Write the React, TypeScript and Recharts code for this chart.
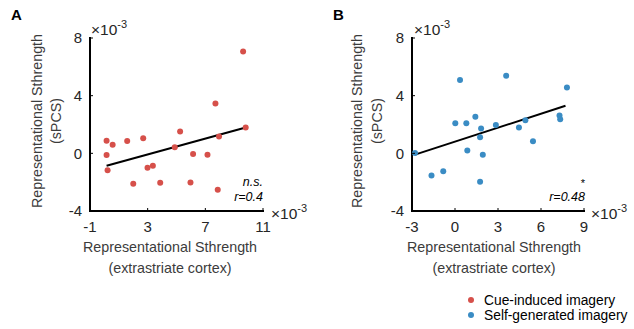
import { Scatter, ScatterChart, XAxis, YAxis } from "recharts"

// values in units of 1e-3
const cueX = [0.15, 0.15, 0.22, 0.57, 1.58, 2.0, 2.69, 2.99, 3.36, 3.87, 4.88, 5.25, 5.97, 6.15, 7.15, 7.7, 7.86, 7.95, 9.62, 9.8]
const cueY = [0.88, -0.12, -1.18, 0.6, 0.86, -2.11, 1.04, -1.0, -0.86, -2.04, 0.42, 1.51, -2.02, -0.05, -0.09, 3.46, -2.53, 1.16, 7.06, 1.79]
const cueFitX = [0.15, 9.8]
const cueFitY = [-0.86, 1.79]

const selfX = [-2.79, -1.64, -0.82, 0.02, 0.35, 0.79, 0.86, 1.42, 1.75, 1.82, 1.75, 1.94, 2.85, 3.57, 4.46, 4.91, 5.44, 7.29, 7.34, 7.81]
const selfY = [0.02, -1.53, -1.25, 2.09, 5.08, 2.09, 0.19, 2.53, 1.11, 1.72, -1.97, -0.09, 1.97, 5.39, 1.79, 2.3, 0.84, 2.62, 2.37, 4.57]
const selfFitX = [-2.79, 7.71]
const selfFitY = [-0.09, 3.3]

const cueTicksX = [-1, 3, 7, 11]
const selfTicksX = [-3, 0, 3, 6, 9]
const ticksY = [-4, 0, 4, 8]

const seriesNames = ["Cue-induced imagery", "Self-generated imagery"]
const stats = [["n.s.", "r=0.4"], ["*", "r=0.48"]]

const RED = "#d6504a"
const BLUE = "#3a8cc4"
const FONT = '"Liberation Sans", Arial, sans-serif'
const TICK_COLOR = "#262626"
const LABEL_COLOR = "#3c3c3c"

const toPoints = (xs: number[], ys: number[]) => xs.map((x, i) => ({ x, y: ys[i] }))

const X_MARGIN = 16
const Y_MARGIN = 8

function XTick(props: any) {
  const { x, y, payload } = props
  return (
    <g>
      <line x1={x} x2={x} y1={y - X_MARGIN} y2={y - X_MARGIN - 3} stroke="#000" strokeWidth={1} />
      <text x={x} y={y} dy="0.35em" textAnchor="middle" fontSize={15} fill={TICK_COLOR} fontFamily={FONT}>
        {payload.value}
      </text>
    </g>
  )
}

function YTick(props: any) {
  const { x, y, payload } = props
  return (
    <g>
      <line x1={x + Y_MARGIN} x2={x + Y_MARGIN + 3} y1={y} y2={y} stroke="#000" strokeWidth={1} />
      <text x={x} y={y} dy="0.35em" textAnchor="end" fontSize={15} fill={TICK_COLOR} fontFamily={FONT}>
        {payload.value}
      </text>
    </g>
  )
}

interface PanelProps {
  xs: number[]
  ys: number[]
  fitX: number[]
  fitY: number[]
  color: string
  xTicks: number[]
  marginLeft: number
  marginRight: number
}

function Panel({ xs, ys, fitX, fitY, color, xTicks, marginLeft, marginRight }: PanelProps) {
  return (
    <ScatterChart width={317} height={260} margin={{ top: 38, right: marginRight, bottom: 19, left: marginLeft }}>
      <XAxis
        type="number"
        dataKey="x"
        domain={[xTicks[0], xTicks[xTicks.length - 1]]}
        ticks={xTicks}
        interval={0}
        height={30}
        tickSize={0}
        tickMargin={X_MARGIN}
        tick={<XTick />}
        axisLine={{ stroke: "#000", strokeWidth: 2, strokeLinecap: "square" }}
      />
      <YAxis
        type="number"
        dataKey="y"
        domain={[ticksY[0], ticksY[ticksY.length - 1]]}
        ticks={ticksY}
        interval={0}
        width={50}
        tickSize={0}
        tickMargin={Y_MARGIN}
        tick={<YTick />}
        axisLine={{ stroke: "#000", strokeWidth: 2, strokeLinecap: "square" }}
      />
      <Scatter
        data={toPoints(fitX, fitY)}
        line={{ stroke: "#000", strokeWidth: 2 }}
        shape={() => <g />}
        isAnimationActive={false}
      />
      <Scatter
        data={toPoints(xs, ys)}
        shape={(p: any) => <circle cx={p.cx} cy={p.cy} r={3} fill={color} />}
        isAnimationActive={false}
      />
    </ScatterChart>
  )
}

function Exponent({ x, y }: { x: number; y: number }) {
  return (
    <text x={x} y={y} fontSize={15.5} fill={TICK_COLOR} fontFamily={FONT}>
      ×10
      <tspan fontSize={11} dy={-7}>
        -3
      </tspan>
    </text>
  )
}

function AxisTitles({ yx, sx, xc }: { yx: number; sx: number; xc: number }) {
  return (
    <g fill={LABEL_COLOR} fontSize={14.3} fontFamily={FONT} textAnchor="middle">
      <text x={yx} y={121} dominantBaseline="central" transform={`rotate(-90 ${yx} 121)`}>
        Representational Sthrength
      </text>
      <text x={sx} y={121} dominantBaseline="central" transform={`rotate(-90 ${sx} 121)`}>
        (sPCS)
      </text>
      <text x={xc} y={252}>Representational Sthrength</text>
      <text x={xc} y={273}>(extrastriate cortex)</text>
    </g>
  )
}

export default function App() {
  return (
    <div style={{ position: "absolute", left: 0, top: 0, width: 634, height: 329, background: "#fff", fontFamily: FONT }}>
      <div style={{ position: "absolute", left: 0, top: 0 }}>
        <Panel xs={cueX} ys={cueY} fitX={cueFitX} fitY={cueFitY} color={RED} xTicks={cueTicksX} marginLeft={40} marginRight={54} />
      </div>
      <div style={{ position: "absolute", left: 317, top: 0 }}>
        <Panel xs={selfX} ys={selfY} fitX={selfFitX} fitY={selfFitY} color={BLUE} xTicks={selfTicksX} marginLeft={45} marginRight={50} />
      </div>
      <svg width={634} height={329} style={{ position: "absolute", left: 0, top: 0, pointerEvents: "none" }}>
        <text x={11} y={20} fontSize={15} fontWeight="bold" fontFamily={FONT} fill="#000">A</text>
        <text x={333} y={20} fontSize={15} fontWeight="bold" fontFamily={FONT} fill="#000">B</text>

        <Exponent x={91} y={35} />
        <Exponent x={271} y={219} />
        <Exponent x={414} y={35} />
        <Exponent x={591} y={219} />

        <AxisTitles yx={37} sx={56} xc={170} />
        <AxisTitles yx={357} sx={377} xc={494} />

        <g fontSize={12.5} fontStyle="italic" fontFamily={FONT} fill="#000" textAnchor="end">
          <text x={263} y={186}>{stats[0][0]}</text>
          <text x={263} y={201}>{stats[0][1]}</text>
          <text x={585} y={187} fontSize={11} fontStyle="normal">{stats[1][0]}</text>
          <text x={585} y={201}>{stats[1][1]}</text>
        </g>

        <g fontSize={13.8} fontFamily={FONT} fill="#000">
          <circle cx={471} cy={300} r={3} fill={RED} />
          <text x={484} y={300} dominantBaseline="central">{seriesNames[0]}</text>
          <circle cx={471} cy={315} r={3} fill={BLUE} />
          <text x={484} y={315} dominantBaseline="central">{seriesNames[1]}</text>
        </g>
      </svg>
    </div>
  )
}
